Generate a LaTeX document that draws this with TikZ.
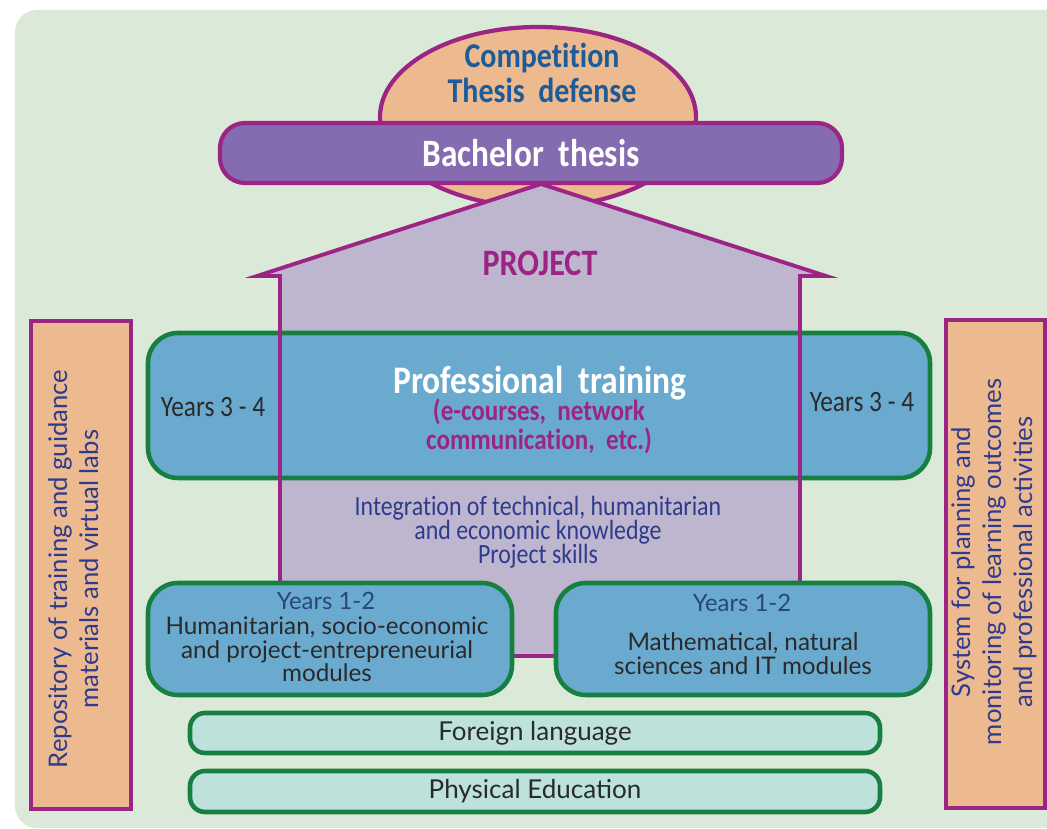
\documentclass[tikz,border=0pt]{standalone}
\usepackage{fontspec}
\setmainfont{Lato}
\newfontfamily\condfont[FakeStretch=0.86, Ligatures=NoCommon]{Carlito}
\usetikzlibrary{shapes.geometric}
\newcommand\tightlines{\lineskiplimit=-10pt\relax}

\definecolor{bggreen}{HTML}{DBEAD8}
\definecolor{plum}{HTML}{9C2484}
\definecolor{lilac}{HTML}{856CB0}
\definecolor{peach}{HTML}{EDB98F}
\definecolor{housegray}{HTML}{BEB5CF}
\definecolor{skyblue}{HTML}{6BAACF}
\definecolor{leaf}{HTML}{178040}
\definecolor{mint}{HTML}{BDE2DB}
\definecolor{inkgray}{HTML}{2A2A2A}
\definecolor{navy}{HTML}{2E3B8C}
\definecolor{steel}{HTML}{28467E}
\definecolor{titleblue}{HTML}{1D5B99}

\begin{document}
\begin{tikzpicture}[
	modulebox/.style={draw=leaf, line width=1.3pt, fill=skyblue, rounded corners=0.3cm, inner sep=0pt},
	barbox/.style={draw=leaf, line width=1.3pt, fill=mint, rounded corners=0.15cm, minimum width=6.9cm, inner sep=0pt, text=inkgray, font=\fontsize{7.4}{8}\selectfont},
	sidebox/.style={draw=plum, line width=1.2pt, fill=peach, minimum width=1cm, minimum height=4.88cm, inner sep=0pt},
	sidetext/.style={rotate=90, align=center, text=navy, font=\fontsize{7.3}{8.8}\selectfont},
	bodytext/.style={align=center, text=inkgray, font=\fontsize{6.9}{6.7}\selectfont},
	yearstext/.style={text=steel, font=\fontsize{6.8}{7}\selectfont},
	oldyears/.style={text=inkgray, font=\condfont\fontsize{8.4}{9}\selectfont},
	titletext/.style={text=titleblue, inner sep=0pt, font=\condfont\bfseries\fontsize{9.9}{11}\selectfont}
	]
	\useasboundingbox (0,0) rectangle (10.47,-8.29);
	% background panel
	\fill[bggreen, rounded corners=0.22cm] (0.15,-0.10) rectangle (10.80,-8.28);
	
	% Competition / defense
	\node[ellipse, draw=plum, line width=1.2pt, fill=peach, minimum width=3.16cm, minimum height=1.80cm] (defense) at (5.38,-1.17) {};
	\node[titletext] (competition) at (5.42,-0.58) {Competition};
	\node[titletext] (defensetext) at (5.42,-0.90) {Thesis~ defense};
	
	% Bachelor thesis
	\node[draw=plum, line width=1.2pt, fill=lilac, rounded corners=0.25cm, minimum width=6.22cm, minimum height=0.6cm, text=white, font=\condfont\bfseries\fontsize{11}{11}\selectfont] (thesis) at (5.31,-1.53) {Bachelor~ thesis};
	
	% Project house (fill first, outline after the training block)
	\fill[housegray] (2.57,-2.76) -- (5.41,-1.84) -- (8.26,-2.76) -- (8.00,-2.76) -- (8.00,-6.56) -- (2.80,-6.56) -- (2.80,-2.76) -- cycle;
	
	% Professional training
	\node[modulebox, minimum width=7.82cm, minimum height=1.45cm] (training) at (5.39,-4.055) {};
	
	\draw[plum, line width=1.1pt] (2.57,-2.76) -- (5.41,-1.84) -- (8.26,-2.76) -- (8.00,-2.76) -- (8.00,-6.56) -- (2.80,-6.56) -- (2.80,-2.76) -- cycle;
	
	\node[text=plum, font=\condfont\bfseries\fontsize{10.6}{11}\selectfont] (project) at (5.40,-2.63) {PROJECT};
	\node[text=white, font=\condfont\bfseries\fontsize{11.1}{12}\selectfont] (trainingtitle) at (5.40,-3.83) {Professional~ training};
	\node[align=center, text=plum, font=\condfont\bfseries\fontsize{8.3}{8.3}\selectfont\tightlines] (tools) at (5.39,-4.26) {(e-courses,~ network\\communication,~ etc.)};
	\node[oldyears] (yearsleft) at (2.13,-4.07) {Years 3 - 4};
	\node[oldyears] (yearsright) at (8.62,-4.02) {Years 3 - 4};
	
	\node[align=center, text=navy, font=\condfont\fontsize{7.9}{6.8}\selectfont\tightlines] (skills) at (5.38,-5.32) {Integration of technical, humanitarian\\and economic knowledge\\Project skills};
	
	% Years 1-2
	\node[modulebox, minimum width=3.64cm, minimum height=1.12cm] (humanities) at (3.30,-6.39) {};
	\node[yearstext] (humyears) at (3.26,-6.01) {Years 1-2};
	\node[bodytext] (humtext) at (3.27,-6.495) {Humanitarian, socio-economic\\and project-entrepreneurial\\modules};
	
	\node[modulebox, minimum width=3.74cm, minimum height=1.12cm] (sciences) at (7.43,-6.39) {};
	\node[yearstext] (sciyears) at (7.42,-6.03) {Years 1-2};
	\node[bodytext] (scitext) at (7.43,-6.535) {Mathematical, natural\\sciences and IT modules};
	
	% Common subjects
	\node[barbox, minimum height=0.40cm] (language) at (5.35,-7.33) {Foreign language};
	\node[barbox, minimum height=0.41cm] (sport) at (5.35,-7.915) {Physical Education};
	
	% Side supports
	\node[sidebox] (repository) at (0.81,-5.65) {};
	\node[sidetext] (repotext) at (0.74,-5.69) {Repository of training and guidance\\materials and virtual labs};
	
	\node[sidebox, minimum width=0.99cm] (monitoring) at (9.955,-5.64) {};
	\node[sidetext] (monitext) at (9.94,-5.62) {System for planning and\\monitoring of learning outcomes\\and professional activities};
\end{tikzpicture}
\end{document}
